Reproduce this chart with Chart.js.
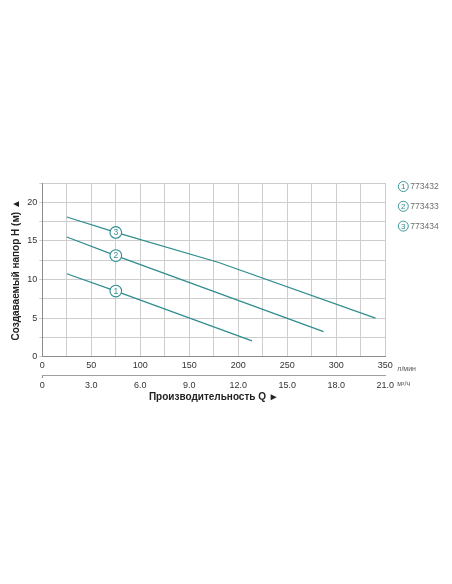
<!DOCTYPE html>
<html>
<head>
<meta charset="utf-8">
<script src="https://cdn.jsdelivr.net/npm/chart.js@4"></script>
<style>
  html, body { margin: 0; padding: 0; background: #fff; }
  #wrap { width: 452px; height: 584px; }
</style>
</head>
<body>
<div id="wrap"><canvas id="chart"></canvas></div>
<script>
// curves: flow Q (l/min) and head H (m)
var seriesNames = ['773432', '773433', '773434'];
var q1 = [25, 75, 214],       h1 = [10.75, 8.5, 2.05];
var q2 = [25, 75, 287],       h2 = [15.5, 13.1, 3.25];
var q3 = [25, 75, 180, 340],  h3 = [18.1, 16.1, 12.2, 5.0];
var markerIndex = 1; // circled number sits on the point at Q = 75

var lpmMax = 350, lpmStep = 25, lpmLabelStep = 50;
var headMax = 22.5, headStep = 2.5, headLabelStep = 5;
var m3hMax = 21, m3hStep = 3;

var teal = '#2f8c8e',
    gridColor = '#cdcdcd',
    axisColor = '#8c8c8c',
    font = 'Liberation Sans, Arial, sans-serif';

function toPoints(q, h) {
    var pts = [];
    for (var i = 0; i < q.length; i++) {
        pts.push({x: q[i], y: h[i]});
    }
    return pts;
}

var curves = [toPoints(q1, h1), toPoints(q2, h2), toPoints(q3, h3)];

var datasets = curves.map(function (pts, i) {
    return {
        label: seriesNames[i],
        data: pts,
        borderColor: teal,
        borderWidth: 1.2,
        pointRadius: 0,
        fill: false,
        tension: 0
    };
});

// circled numbers on the curves, the legend and the unit names
var extras = {
    id: 'extras',
    afterDatasetsDraw: function (chart) {
        var c = chart.ctx, area = chart.chartArea;
        c.save();
        c.textAlign = 'center';
        c.textBaseline = 'middle';

        chart.data.datasets.forEach(function (ds, i) {
            var p = chart.getDatasetMeta(i).data[markerIndex];
            c.beginPath();
            c.arc(p.x, p.y, 5.8, 0, Math.PI * 2);
            c.fillStyle = '#fff';
            c.fill();
            c.lineWidth = 1.1;
            c.strokeStyle = teal;
            c.stroke();
            c.fillStyle = teal;
            c.font = '8.5px ' + font;
            c.fillText(String(i + 1), p.x, p.y + 0.5);
        });

        // legend on the right
        seriesNames.forEach(function (name, i) {
            var cx = area.right + 18, cy = area.top + 3.5 + i * 19.8;
            c.beginPath();
            c.arc(cx, cy, 5, 0, Math.PI * 2);
            c.lineWidth = 0.9;
            c.strokeStyle = teal;
            c.stroke();
            c.fillStyle = teal;
            c.textAlign = 'center';
            c.font = '8px ' + font;
            c.fillText(String(i + 1), cx, cy + 0.5);
            c.fillStyle = '#6e6e6e';
            c.textAlign = 'left';
            c.font = '8.5px ' + font;
            c.fillText(name, cx + 7, cy + 0.5);
        });

        // units next to the two flow axes
        var x1 = chart.scales.x, x2 = chart.scales.x2;
        c.fillStyle = '#555';
        c.textAlign = 'left';
        c.font = '7px ' + font;
        c.fillText('л/мин', area.right + 12, x1.top + 12);
        c.fillText('м³/ч', area.right + 12, x2.top + 9);
        c.restore();
    }
};

new Chart(document.getElementById('chart'), {
    type: 'line',
    data: { datasets: datasets },
    plugins: [extras],
    options: {
        responsive: true,
        maintainAspectRatio: false,
        animation: false,
        layout: { padding: { top: 183, right: 66.7, bottom: 181, left: 0 } },
        plugins: {
            legend: { display: false },
            tooltip: { enabled: false }
        },
        scales: {
            x: {
                type: 'linear',
                position: 'bottom',
                weight: 0,
                min: 0,
                max: lpmMax,
                ticks: {
                    stepSize: lpmStep,
                    padding: 3,
                    color: '#333',
                    font: { family: font, size: 9 },
                    maxRotation: 0,
                    callback: function (v) { return v % lpmLabelStep === 0 ? String(v) : ''; }
                },
                grid: { color: gridColor, lineWidth: 1, drawTicks: false },
                border: { color: axisColor, width: 1 },
                afterFit: function (scale) { scale.height = 18.3; }
            },
            x2: {
                type: 'linear',
                axis: 'x',
                position: 'bottom',
                weight: 1,
                min: 0,
                max: m3hMax,
                ticks: {
                    stepSize: m3hStep,
                    padding: 2,
                    color: '#333',
                    font: { family: font, size: 9 },
                    maxRotation: 0,
                    callback: function (v) { return v === 0 ? '0' : v.toFixed(1); }
                },
                grid: {
                    drawOnChartArea: false,
                    drawTicks: true,
                    tickLength: 3,
                    color: function (ctx) { return ctx.tick && ctx.tick.value === 0 ? axisColor : 'rgba(0,0,0,0)'; }
                },
                border: { color: '#a0a0a0', width: 1 },
                title: {
                    display: true,
                    text: 'Производительность Q ►',
                    color: '#222',
                    font: { family: font, size: 10, weight: 'bold' },
                    padding: { top: 0, bottom: 0 }
                },
                afterFit: function (scale) { scale.height = 28; }
            },
            y: {
                min: 0,
                max: headMax,
                ticks: {
                    stepSize: headStep,
                    padding: 2,
                    color: '#333',
                    font: { family: font, size: 9 },
                    callback: function (v) { return v % headLabelStep === 0 ? String(v) : ''; }
                },
                grid: { color: gridColor, lineWidth: 1, drawTicks: true, tickLength: 3 },
                border: { color: axisColor, width: 1 },
                title: {
                    display: true,
                    text: 'Создаваемый напор H (м) ▲',
                    color: '#222',
                    font: { family: font, size: 10, weight: 'bold' },
                    padding: { top: 10.5, bottom: 0 }
                },
                afterFit: function (scale) { scale.width = 42.3; }
            }
        }
    }
});
</script>
</body>
</html>
